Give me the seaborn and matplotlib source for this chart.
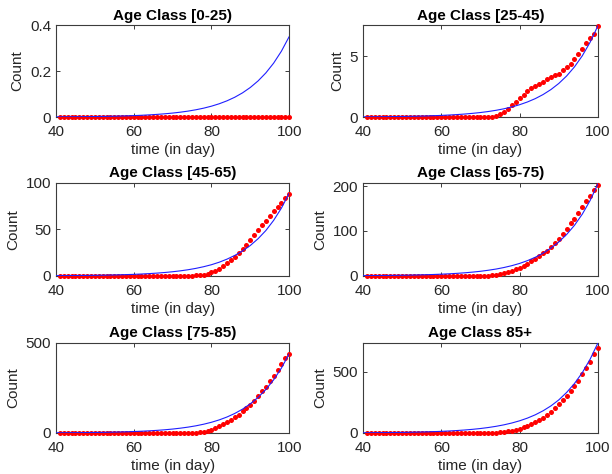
import numpy as np
import pandas as pd
import matplotlib
matplotlib.use("Agg")
import matplotlib.pyplot as plt
import seaborn as sns

# ---- data -------------------------------------------------------------
titles = ["Age Class [0-25)", "Age Class [25-45)", "Age Class [45-65)",
          "Age Class [65-75)", "Age Class [75-85)", "Age Class 85+"]

# observed daily counts, days 41..100
obs_days = list(range(41, 101))

obs_0_25 = [0, 0, 0, 0, 0, 0, 0, 0, 0, 0,
            0, 0, 0, 0, 0, 0, 0, 0, 0, 0,
            0, 0, 0, 0, 0, 0, 0, 0, 0, 0,
            0, 0, 0, 0, 0, 0, 0, 0, 0, 0,
            0, 0, 0, 0, 0, 0, 0, 0, 0, 0,
            0, 0, 0, 0, 0, 0, 0, 0, 0, 0]
obs_25_45 = [0, 0, 0, 0, 0, 0, 0, 0, 0, 0,
             0, 0, 0, 0, 0, 0, 0, 0, 0, 0,
             0, 0, 0, 0, 0, 0, 0, 0, 0, 0,
             0, 0, 0, 0.05, 0.22, 0.41, 0.68, 0.98, 1.26, 1.53,
             1.78, 2.13, 2.40, 2.57, 2.71, 2.84, 3.12, 3.25, 3.42, 3.53,
             3.85, 4.13, 4.35, 4.73, 5.17, 5.60, 6.10, 6.53, 6.86, 7.45]
obs_45_65 = [0, 0, 0, 0, 0, 0, 0, 0, 0, 0,
             0, 0, 0, 0, 0, 0, 0, 0, 0, 0,
             0, 0, 0, 0, 0, 0, 0, 0, 0, 0,
             0, 0, 0, 0, 0.2, 0.4, 0.7, 1.4, 2.5, 3.9,
             5.7, 7.9, 10.8, 13.6, 17.2, 20.8, 24.4, 28.7, 33.7, 38.7,
             44.4, 49.5, 54.5, 59.5, 64.5, 69.3, 73.8, 78.4, 83.3, 88.5]
obs_65_75 = [0, 0, 0, 0, 0, 0, 0, 0, 0, 0,
             0, 0, 0, 0, 0, 0, 0, 0, 0, 0,
             0, 0, 0, 0, 0, 0, 0, 0, 0, 0.3,
             0.5, 0.8, 1.2, 2.0, 3.2, 5.5, 7.8, 10.9, 14.7, 17.8,
             22.5, 27.1, 32.5, 37.9, 44.0, 50.2, 56.4, 64.1, 73.4, 82.6,
             93.6, 104.3, 116.7, 127.0, 141.0, 153.0, 166.0, 178.0, 191.0, 203.0]
obs_75_85 = [0, 0, 0, 0, 0, 0, 0, 0, 0, 0,
             0, 0, 0, 0, 0, 0, 0, 0, 0, 0,
             0, 0, 0, 0, 0, 0, 0, 0, 0, 0,
             0, 0.5, 0.8, 1.0, 1.5, 2.5, 4.0, 7.4, 13, 19,
             28, 37, 48, 59, 72, 87, 102, 121, 139, 158,
             180, 204, 232, 258, 288, 319, 351, 384, 414, 438]
obs_85p = [0, 0, 0, 0, 0, 0, 0, 0, 0, 0,
           0, 0, 0, 0, 0, 0, 0, 0, 0, 0,
           0, 0, 0, 0, 0, 0, 0, 0, 0, 0,
           0, 1, 2, 3, 5, 8, 14, 19, 27, 36,
           46, 57, 71, 87, 107, 126, 148, 175, 202, 235,
           268, 303, 344, 385, 429, 481, 530, 585, 645, 695]

# fitted model curve, every second day 40..100
fit_days = list(range(40, 101, 2))

fit_0_25 = [0.0009, 0.0011, 0.0013, 0.0016, 0.0019, 0.0024, 0.0029, 0.0035,
            0.0043, 0.0053, 0.0064, 0.0078, 0.0096, 0.0117, 0.0143, 0.0174,
            0.0213, 0.0260, 0.0318, 0.0388, 0.0474, 0.0579, 0.0707, 0.0863,
            0.1054, 0.1288, 0.1573, 0.1921, 0.2346, 0.2865, 0.35]
fit_25_45 = [0.019, 0.023, 0.028, 0.034, 0.041, 0.051, 0.062, 0.075,
             0.092, 0.113, 0.137, 0.168, 0.205, 0.250, 0.306, 0.373,
             0.456, 0.557, 0.680, 0.831, 1.015, 1.240, 1.514, 1.850,
             2.259, 2.759, 3.370, 4.116, 5.027, 6.140, 7.5]
fit_45_65 = [0.22, 0.27, 0.33, 0.40, 0.49, 0.60, 0.73, 0.89,
             1.09, 1.34, 1.63, 1.99, 2.43, 2.97, 3.63, 4.43,
             5.41, 6.61, 8.07, 9.86, 12.0, 14.7, 18.0, 22.0,
             26.8, 32.7, 40.0, 48.8, 59.7, 72.9, 89.0]
fit_65_75 = [0.51, 0.62, 0.76, 0.93, 1.13, 1.38, 1.69, 2.06,
             2.52, 3.07, 3.76, 4.59, 5.60, 6.84, 8.36, 10.2,
             12.5, 15.2, 18.6, 22.7, 27.7, 33.9, 41.4, 50.6,
             61.8, 75.4, 92.1, 112.5, 137.4, 167.8, 205.0]
fit_75_85 = [1.09, 1.33, 1.63, 1.99, 2.43, 2.97, 3.62, 4.42,
             5.40, 6.60, 8.06, 9.84, 12.0, 14.7, 17.9, 21.9,
             26.8, 32.7, 39.9, 48.8, 59.5, 72.7, 88.8, 108.5,
             132.5, 161.9, 197.7, 241.5, 294.9, 360.2, 440.0]
fit_85p = [1.83, 2.24, 2.73, 3.34, 4.07, 4.97, 6.07, 7.42,
           9.06, 11.1, 13.5, 16.5, 20.2, 24.6, 30.1, 36.7,
           44.9, 54.8, 66.9, 81.8, 99.9, 122, 149, 182,
           222, 271, 332, 405, 494, 604, 738]

obs_series = [obs_0_25, obs_25_45, obs_45_65, obs_65_75, obs_75_85, obs_85p]
fit_series = [fit_0_25, fit_25_45, fit_45_65, fit_65_75, fit_75_85, fit_85p]

x_ticks = [40, 60, 80, 100]
y_ticks = [[0, 0.2, 0.4], [0, 5], [0, 50, 100], [0, 100, 200], [0, 500], [0, 500]]
y_tick_labels = [["0", "0.2", "0.4"], ["0", "5"], ["0", "50", "100"],
                 ["0", "100", "200"], ["0", "500"], ["0", "500"]]
y_tops = [0.4, 7.55, 100, 207, 500, 738]

# ---- style ------------------------------------------------------------
sns.set_theme(style="ticks")
plt.rcParams["font.family"] = ["Liberation Sans", "DejaVu Sans"]
plt.rcParams["axes.edgecolor"] = "#3c3c3c"
plt.rcParams["axes.linewidth"] = 0.8
plt.rcParams["text.color"] = "#262626"
plt.rcParams["axes.labelcolor"] = "#262626"
plt.rcParams["xtick.color"] = "#3c3c3c"
plt.rcParams["ytick.color"] = "#3c3c3c"

fig = plt.figure(figsize=(6.12, 4.74), dpi=100)

col_left = [0.0915, 0.593]
col_width = [0.381, 0.384]
row_bottom = [0.753, 0.418, 0.0865]
row_height = [0.194, 0.196, 0.19]

for i in range(6):
    r, c = divmod(i, 2)
    ax = fig.add_axes([col_left[c], row_bottom[r], col_width[c], row_height[r]])

    obs_df = pd.DataFrame({"day": obs_days, "count": obs_series[i]})
    fit_df = pd.DataFrame({"day": fit_days, "count": fit_series[i]})

    sns.scatterplot(data=obs_df, x="day", y="count", ax=ax, color="#ff0000",
                    s=13, linewidth=0, clip_on=False, zorder=3, legend=False)
    sns.lineplot(data=fit_df, x="day", y="count", ax=ax, color="#1f1fff",
                 linewidth=0.8, zorder=4, legend=False)

    ax.set_xlim(40, 100)
    ax.set_ylim(0, y_tops[i])
    ax.set_xticks(x_ticks)
    ax.set_xticklabels([str(t) for t in x_ticks])
    ax.set_yticks(y_ticks[i])
    ax.set_yticklabels(y_tick_labels[i])
    ax.tick_params(direction="in", length=3, width=0.7, top=True, right=True,
                   labelsize=11, labelcolor="#262626")
    ax.tick_params(axis="x", pad=5.5)
    ax.tick_params(axis="y", pad=3.5)
    for sp in ax.spines.values():
        sp.set_visible(True)
    ax.set_xlabel("time (in day)", fontsize=11, labelpad=3)
    ax.set_ylabel("Count", fontsize=11, labelpad=4)
    ax.set_title(titles[i], fontsize=11, fontweight="bold", pad=4, color="black")

fig.savefig("out.png", dpi=100, facecolor="white")
